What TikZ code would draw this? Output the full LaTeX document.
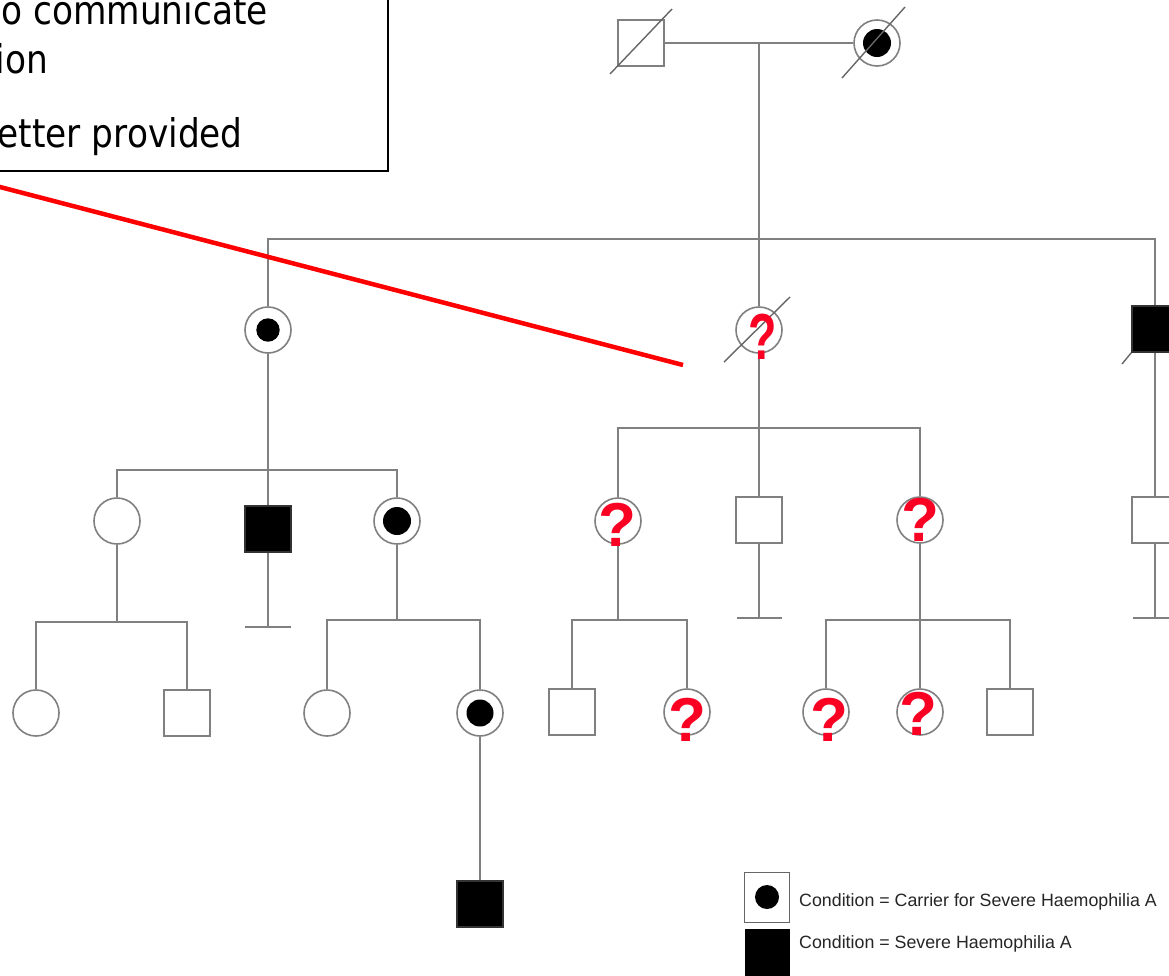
\documentclass[tikz,border=0pt]{standalone}
\usepackage{fontspec}
\setmainfont{Liberation Sans}
\newfontfamily\notefont[FakeStretch=0.87]{DejaVu Sans}
\usetikzlibrary{calc}
\definecolor{qred}{RGB}{250,0,35}
\begin{document}
\begin{tikzpicture}[x=1pt,y=-1pt,
  pline/.style={draw=black!50, line width=1.6pt},
  person/.style={pline, minimum size=46pt, inner sep=0pt, fill=white},
  fem/.style={person, circle},
  male/.style={person, rectangle},
  affected/.style={fill=black, draw=black!80},
  carrier/.style={path picture={\fill[black] (path picture bounding box.center) circle (#1);}},
  carrier/.default=13.5pt,
  qmark/.style={text=qred, font=\bfseries\fontsize{62}{62}\selectfont, inner sep=0pt},
  slash/.style={draw=black!60, line width=1.4pt},
  notetext/.style={anchor=base east, inner sep=0pt, font=\notefont\fontsize{39.5}{46}\selectfont},
  keytext/.style={anchor=base west, inner sep=0pt, text=black!85, font=\fontsize{17.8}{20}\selectfont}
]
\useasboundingbox (0,0) rectangle (1169,975);
\clip (0,0) rectangle (1169,975);
\fill[white] (0,0) rectangle (1169,975);

% note box in the upper left corner
\draw[black, line width=2.2pt] (-20,-20) rectangle (388,171);
\node[notetext] (n1) at (268,24) {o communicate};
\node[notetext] (n2) at (48,73) {ion};
\node[notetext] (n3) at (243,147) {etter provided};

% generation I
\node[male] (I1) at (641,43) {};
\node[fem, carrier=14pt] (I2) at (877,43) {};
% generation II
\node[fem, carrier=11.7pt] (II1) at (268,330) {};
\node[fem] (II2) at (759,330) {};
\node[male, affected] (II3) at (1155,329) {};
% generation III
\node[fem] (III1) at (117,521) {};
\node[male, affected] (III2) at (268,529) {};
\node[fem, carrier=14pt] (III3) at (397,521) {};
\node[fem] (III4) at (618,521) {};
\node[male] (III5) at (759,520) {};
\node[fem] (III6) at (920,520) {};
\node[male] (III7) at (1155,520) {};
% generation IV
\node[fem] (IV1) at (36,713) {};
\node[male] (IV2) at (187,713) {};
\node[fem] (IV3) at (327,713) {};
\node[fem, carrier=13.5pt] (IV4) at (480,713) {};
\node[male] (IV5) at (572,712) {};
\node[fem] (IV6) at (687,712) {};
\node[fem] (IV7) at (826,712) {};
\node[fem] (IV8) at (920,712) {};
\node[male] (IV9) at (1010,712) {};
% generation V
\node[male, affected] (V1) at (480,904) {};

% marriage, descent and sibship lines
\coordinate (m1) at (759,43);
\coordinate (s1) at (759,239);
\coordinate (s2) at (268,470);
\coordinate (s3) at (117,622);
\coordinate (s4) at (397,620);
\coordinate (s5) at (759,428);
\coordinate (s6) at (618,620);
\coordinate (s7) at (920,620);
\coordinate (b1) at (268,627);
\coordinate (b2) at (759,618);
\coordinate (b3) at (1155,618);

\draw[pline] (I1.east) -- (I2.west);
\draw[pline] (m1) -- (II2.north);
\draw[pline] (II1.north) |- (s1) -| (II3.north);

\draw[pline] (II1.south) -- (III2.north);
\draw[pline] (III1.north) |- (s2) -| (III3.north);
\draw[pline] (III2.south) -- (b1);
\draw[pline] ($(b1)+(-23,0)$) -- ($(b1)+(23,0)$);

\draw[pline] (III1.south) -- (s3);
\draw[pline] (IV1.north) |- (s3) -| (IV2.north);
\draw[pline] (III3.south) -- (s4);
\draw[pline] (IV3.north) |- (s4) -| (IV4.north);
\draw[pline] (IV4.south) -- (V1.north);

\draw[pline] (II2.south) -- (III5.north);
\draw[pline] (III4.north) |- (s5) -| (III6.north);
\draw[pline] (III5.south) -- (b2);
\draw[pline] ($(b2)+(-22,0)$) -- ($(b2)+(23,0)$);

\draw[pline] (III4.south) -- (s6);
\draw[pline] (IV5.north) |- (s6) -| (IV6.north);
\draw[pline] (III6.south) -- (IV8.north);
\draw[pline] (IV7.north) |- (s7) -| (IV9.north);

\draw[pline] (II3.south) -- (III7.north);
\draw[pline] (III7.south) -- (b3);
\draw[pline] ($(b3)+(-22,0)$) -- ($(b3)+(23,0)$);

% deceased marks
\draw[slash] ($(I1)+(-31,31)$) -- ($(I1)+(31,-34)$);
\draw[slash] ($(I2)+(-35,35)$) -- ($(I2)+(28,-36)$);
\draw[slash] ($(II2)+(-35,32)$) -- ($(II2)+(31,-33)$);
\draw[slash] ($(II3)+(-33,35)$) -- (II3.south west);

% unknown status
\node[qmark, xscale=0.75, yscale=1.05] (q1) at (763,337) {?};
\node[qmark] (q2) at (617,525) {?};
\node[qmark] (q3) at (920,520) {?};
\node[qmark] (q4) at (687,720) {?};
\node[qmark] (q5) at (829,720) {?};
\node[qmark] (q6) at (918,714) {?};

% pointer line
\coordinate (p0) at (-5,185.7);
\coordinate (p1) at (683,365);
\draw[red, line width=4.5pt] (p0) -- (p1);

% key
\node[rectangle, draw=black!60, line width=1pt, minimum width=45pt, minimum height=50pt, inner sep=0pt, carrier=12pt] (k1) at (767,897) {};
\node[keytext] (k1t) at (799,906) {Condition = Carrier for Severe Haemophilia A};
\node[rectangle, fill=black, minimum width=45pt, minimum height=52pt, inner sep=0pt] (k2) at (767,955) {};
\node[keytext] (k2t) at (799,948) {Condition = Severe Haemophilia A};
\end{tikzpicture}
\end{document}
